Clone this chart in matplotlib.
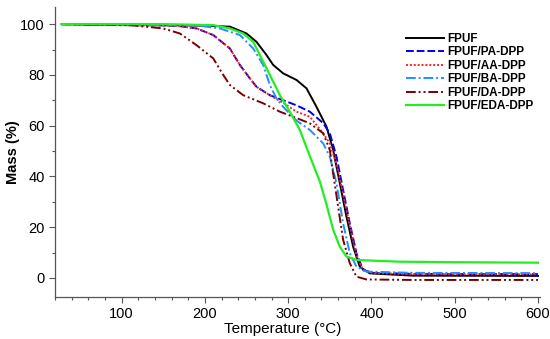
#!/usr/bin/env python3
"""
TGA curves (mass vs temperature) for FPUF and the DPP-modified foams.
"""

import matplotlib
matplotlib.use('Agg')
import matplotlib.pyplot as plt
from matplotlib.ticker import MultipleLocator

plt.rcParams['font.family'] = ['Liberation Sans', 'DejaVu Sans']

# (temperature in degC, mass in %)
fpuf_t = [28, 100, 150, 200, 230, 250, 262, 274, 282, 294, 310, 322, 334, 346, 354, 362, 370, 378, 386, 398, 450, 600]
fpuf_m = [100, 99.7, 99.6, 99.4, 99, 96.3, 93, 87.8, 83.9, 80.6, 78, 74.7, 67.4, 59.6, 50.4, 37.3, 24.1, 12.3, 4.4, 1.8, 0.9, 0.8]

pa_t = [28, 100, 150, 170, 190, 210, 230, 242, 254, 262, 278, 294, 310, 326, 342, 350, 358, 366, 374, 382, 390, 402, 450, 600]
pa_m = [100, 99.6, 99.5, 99.2, 98.3, 95.7, 90.4, 83.9, 78.6, 75.3, 72, 70, 68, 65.5, 61, 57, 47.8, 34.6, 21.5, 9.7, 3.1, 2, 1.6, 1.5]

aa_t = [28, 100, 150, 170, 190, 210, 230, 242, 254, 262, 278, 294, 310, 326, 342, 350, 358, 366, 374, 382, 390, 402, 450, 600]
aa_m = [100, 99.6, 99.5, 99.2, 98.3, 95.7, 90.4, 83.9, 78.6, 75.3, 72, 69, 65.5, 63.5, 57, 53, 45, 33, 20.5, 9, 3, 1.9, 1.5, 1.4]

ba_t = [28, 100, 150, 190, 218, 242, 258, 270, 278, 286, 294, 310, 326, 342, 350, 358, 366, 374, 382, 394, 450, 600]
ba_m = [100, 99.7, 99.6, 99.5, 98.3, 95.7, 90.4, 83.9, 76, 70.7, 67.4, 62, 58.3, 53, 47.8, 37.3, 21.5, 9.7, 4.4, 2.5, 2, 1.9]

da_t = [28, 80, 110, 150, 170, 190, 210, 222, 230, 246, 270, 290, 310, 326, 342, 350, 354, 360, 366, 374, 382, 394, 450, 600]
da_m = [100, 99.7, 99.6, 98.3, 96.3, 91.7, 86.5, 80, 76, 72, 68.8, 65.5, 63, 60.9, 57, 50.4, 41.2, 28, 15, 5.8, 0.5, -0.6, -0.8, -0.8]

eda_t = [28, 100, 150, 210, 230, 246, 258, 266, 278, 290, 302, 314, 326, 338, 346, 354, 362, 370, 382, 402, 434, 500, 600]
eda_m = [100, 100, 100, 99.6, 98.3, 96.3, 93, 87.8, 80, 72, 65.5, 58.3, 48, 38, 29, 19, 12.3, 8.4, 7.1, 6.8, 6.4, 6.2, 6.0]

series = [
    ('FPUF', fpuf_t, fpuf_m, dict(color='black', linestyle='-', linewidth=1.4)),
    ('FPUF/PA-DPP', pa_t, pa_m, dict(color='#0000ee', linestyle=(0, (4, 1.5)), linewidth=1.4)),
    ('FPUF/AA-DPP', aa_t, aa_m, dict(color='#ff2020', linestyle=(0, (1, 1)), linewidth=1.4)),
    ('FPUF/BA-DPP', ba_t, ba_m, dict(color='#1e90ff', linestyle=(0, (5, 1.5, 1, 1.5)), linewidth=1.4)),
    ('FPUF/DA-DPP', da_t, da_m, dict(color='#7a0000', linestyle=(0, (5, 1.5, 1, 1.5, 1, 1.5)), linewidth=1.4)),
    ('FPUF/EDA-DPP', eda_t, eda_m, dict(color='#22ee22', linestyle='-', linewidth=1.6)),
]

fig = plt.figure(figsize=(5.5, 3.39), dpi=100)
ax = fig.add_axes([0.1, 0.124, 0.882, 0.855])

for label, t, m, style in series:
    ax.plot(t, m, label=label, **style)

ax.set_xlim(20, 602.5)
ax.set_ylim(-7.5, 106.7)
ax.xaxis.set_major_locator(MultipleLocator(100))
ax.xaxis.set_minor_locator(MultipleLocator(20))
ax.yaxis.set_major_locator(MultipleLocator(20))
ax.yaxis.set_minor_locator(MultipleLocator(10))
ax.tick_params(which='both', direction='out', labelsize=10.5, width=0.8, color='#555555')
ax.tick_params(which='major', length=4)
ax.tick_params(which='minor', length=2.5)

for side in ['top', 'right']:
    ax.spines[side].set_visible(False)
for side in ['left', 'bottom']:
    ax.spines[side].set_color('#555555')
    ax.spines[side].set_linewidth(0.9)

ax.set_xlabel('Temperature (\u00b0C)', fontsize=11, labelpad=0)
ax.xaxis.set_label_coords(0.47, -0.085)
ax.set_ylabel('Mass (%)', fontsize=10.5, fontweight='bold', labelpad=0)

leg = ax.legend(loc='upper right', bbox_to_anchor=(1.0, 0.935), frameon=False,
                prop={'weight': 'bold', 'size': 8.5}, handlelength=3.2,
                handletextpad=0.25, labelspacing=0.12, borderaxespad=0.2)

plt.savefig('out.png', dpi=100)
